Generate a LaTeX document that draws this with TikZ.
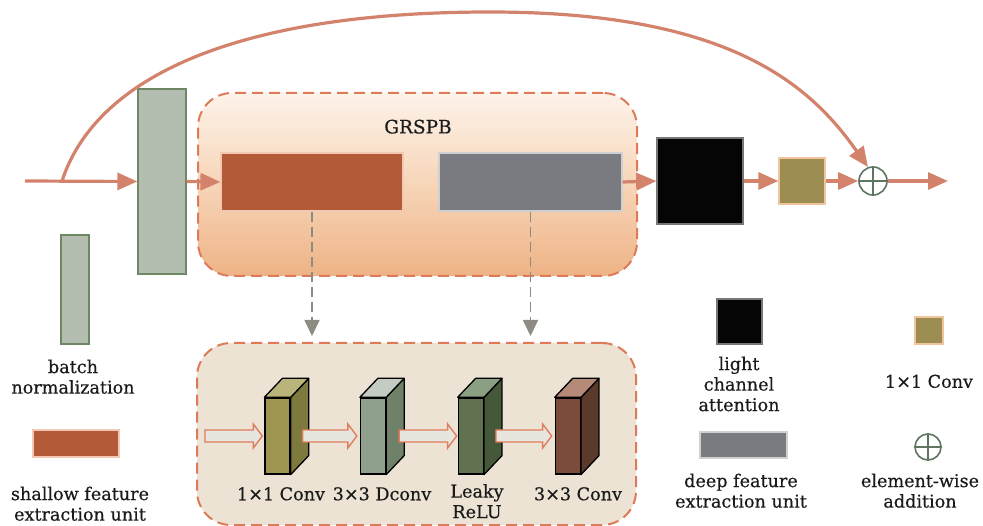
\documentclass[tikz,border=0pt]{standalone}
\usepackage{fontspec}
\setmainfont{DejaVu Serif}[FakeBold=0.4]
\usetikzlibrary{arrows.meta,calc}
\definecolor{connC}{HTML}{D3826C}
\definecolor{dashC}{HTML}{DD7B58}
\definecolor{bnfill}{HTML}{B3BEB0}
\definecolor{bnline}{HTML}{6E8865}
\definecolor{shfill}{HTML}{B35A38}
\definecolor{shline}{HTML}{F0C8B4}
\definecolor{dpfill}{HTML}{7A7B80}
\definecolor{dpline}{HTML}{D0D0D0}
\definecolor{bkfill}{HTML}{050505}
\definecolor{bkline}{HTML}{777777}
\definecolor{olfill}{HTML}{9C8E52}
\definecolor{olline}{HTML}{F2C49E}
\definecolor{plusC}{HTML}{5D7561}
\definecolor{lowfill}{HTML}{ECE3D4}
\definecolor{grtop}{HTML}{FDF3EA}
\definecolor{grmid}{HTML}{F7D5B8}
\definecolor{grbot}{HTML}{EEB386}
\definecolor{grayarr}{HTML}{8E8B82}
\definecolor{harrfill}{HTML}{E8E5DE}
\definecolor{harrline}{HTML}{E07D5C}
\definecolor{txtC}{HTML}{1A1A1A}
\definecolor{bAf}{HTML}{9D9650}\definecolor{bAs}{HTML}{7E7A3E}\definecolor{bAt}{HTML}{B8B47A}
\definecolor{bBf}{HTML}{8FA08D}\definecolor{bBs}{HTML}{6F8169}\definecolor{bBt}{HTML}{C3CBC3}
\definecolor{bCf}{HTML}{5F714F}\definecolor{bCs}{HTML}{45583A}\definecolor{bCt}{HTML}{8BA083}
\definecolor{bDf}{HTML}{7B4C3A}\definecolor{bDs}{HTML}{5B3A2C}\definecolor{bDt}{HTML}{B58A78}
\newcommand\harrow[2]{\draw[harr] ($#1+(0,-6)$) -- ($#2+(-9,-6)$) -- ($#2+(-9,-12)$) -- #2 -- ($#2+(-9,12)$) -- ($#2+(-9,6)$) -- ($#1+(0,6)$) -- cycle;}
\newcommand\cubeblk[5]{%
  \node[blk, fill=#3] (#1) at #2 {};
  \draw[blkline, fill=#4] (#1.north east) -- ++(18,-19) -- ($(#1.south east)+(18,-19)$) -- (#1.south east) -- cycle;
  \draw[blkline, fill=#5] (#1.north west) -- ++(18,-19) -- ($(#1.north east)+(18,-19)$) -- (#1.north east) -- cycle;
  \node[blk, fill=#3] at #2 {};}
\tikzset{
  txt/.style={font=\fontsize{17.6}{20.5}\selectfont, text=txtC, align=center, inner sep=0pt, anchor=north},
  box/.style={inner sep=0pt, line width=1.2pt},
  conn/.style={draw=connC, line width=3.2pt, -{Triangle[length=20pt,width=17pt]}},
  dashbox/.style={draw=dashC, line width=2pt, dash pattern=on 11pt off 6pt, rounded corners=34pt, inner sep=0pt},
  dasharr/.style={draw=grayarr, line width=1.7pt, dash pattern=on 10pt off 5pt, -{Triangle[length=16pt,width=15pt]}},
  harr/.style={fill=harrfill, draw=harrline, line width=1.4pt},
  blk/.style={draw=black, line width=1.3pt, minimum width=25pt, minimum height=76pt, inner sep=0pt},
  blkline/.style={draw=black, line width=1.3pt, line join=round},
  plussym/.style={circle, draw=plusC, fill=white, line width=1.6pt, inner sep=0pt},
}
\begin{document}
\begin{tikzpicture}[x=1pt,y=-1pt]
\useasboundingbox (0,0) rectangle (983,526);
% containers
\node[dashbox, top color=grtop, bottom color=grbot, middle color=grmid, minimum width=439pt, minimum height=183pt] (grspb) at (417.5,184.5) {};
\node[font=\fontsize{18.5}{20}\selectfont, text=txtC, inner sep=0pt, anchor=north] (grlbl) at (418,119.5) {GRSPB};
\node[dashbox, fill=lowfill, minimum width=439pt, minimum height=182pt] (lower) at (416.5,434) {};
% main blocks
\node[box, draw=bnline, fill=bnfill, minimum width=48pt, minimum height=185pt] (bn) at (162,181.5) {};
\node[box, draw=shline, fill=shfill, minimum width=182pt, minimum height=58pt] (shallow) at (312,182) {};
\node[box, draw=dpline, fill=dpfill, minimum width=183pt, minimum height=58pt] (deep) at (530.5,182) {};
\node[box, draw=bkline, fill=bkfill, minimum width=86pt, minimum height=86pt] (lca) at (700,181) {};
\node[box, draw=olline, fill=olfill, minimum width=46pt, minimum height=46pt] (conv) at (802,181) {};
\node[plussym, minimum size=28pt] (plus) at (873,181) {};
\draw[plusC, line width=1.6pt] (plus.north) -- (plus.south) (plus.west) -- (plus.east);
% connectors
\coordinate (in) at (25,181);
\coordinate (br) at (62,181);
\coordinate (out) at (948,181);
\draw[conn] (in) -- (bn.west);
\draw[conn] (bn.east) -- (shallow.west);
\draw[conn] (deep.east) -- (lca.west);
\draw[conn] (lca.east) -- (conv.west);
\draw[conn] (conv.east) -- (plus.west);
\draw[conn] (plus.east) -- (out);
\draw[conn] (br) .. controls (95,80) and (230,12) .. (490,12) .. controls (730,12) and (810,85) .. (plus.110);
\draw[dasharr] (shallow.south) -- ($(shallow.south |- lower.north)+(0,-6)$);
\draw[dasharr] (deep.south) -- ($(deep.south |- lower.north)+(0,-6)$);
% 3D blocks
\cubeblk{b1}{(277.5,436)}{bAf}{bAs}{bAt}
\cubeblk{b2}{(373,436)}{bBf}{bBs}{bBt}
\cubeblk{b3}{(470.8,436)}{bCf}{bCs}{bCt}
\cubeblk{b4}{(567.8,436)}{bDf}{bDs}{bDt}
\coordinate (h0) at (205,436);
\coordinate (t1) at ($(b1.west)+(-2,0)$);
\coordinate (s2) at ($(b1.east)+(12,0)$);
\coordinate (t2) at ($(b2.west)+(-3,0)$);
\coordinate (s3) at ($(b2.east)+(13,0)$);
\coordinate (t3) at ($(b3.west)+(-1,0)$);
\coordinate (s4) at ($(b3.east)+(12,0)$);
\coordinate (t4) at ($(b4.west)+(-3,0)$);
\harrow{(h0)}{(t1)}
\harrow{(s2)}{(t2)}
\harrow{(s3)}{(t3)}
\harrow{(s4)}{(t4)}
\node[txt] (l1) at (281,487) {1×1 Conv};
\node[txt] (l2) at (382,487) {3×3 Dconv};
\node[txt] (l3) at (477,484) {Leaky\\ReLU};
\node[txt] (l4) at (578,487) {3×3 Conv};
% legend
\node[box, draw=bnline, fill=bnfill, minimum width=28pt, minimum height=109pt] (bnleg) at (75,289.5) {};
\node[txt] (bnlbl) at (73,359.5) {batch\\normalization};
\node[box, draw=shline, fill=shfill, minimum width=86pt, minimum height=27pt] (shleg) at (76,443.5) {};
\node[txt] (shlbl) at (80,486.5) {shallow feature\\extraction unit};
\node[box, draw=bkline, fill=bkfill, minimum width=45pt, minimum height=45pt] (bkleg) at (739.5,321.5) {};
\node[txt] (bklbl) at (739,356.5) {light\\channel\\attention};
\node[box, draw=dpline, fill=dpfill, minimum width=87pt, minimum height=26pt] (dpleg) at (743.5,445) {};
\node[txt] (dplbl) at (741,473.5) {deep feature\\extraction unit};
\node[box, draw=olline, fill=olfill, minimum width=28pt, minimum height=27pt] (olleg) at (929,330.5) {};
\node[txt] (ollbl) at (929,374.5) {1×1 Conv};
\node[plussym, minimum size=26pt] (plusleg) at (928,447) {};
\draw[plusC, line width=1.6pt] (plusleg.north) -- (plusleg.south) (plusleg.west) -- (plusleg.east);
\node[txt] (pllbl) at (920,473.5) {element-wise\\addition};
\end{tikzpicture}
\end{document}
